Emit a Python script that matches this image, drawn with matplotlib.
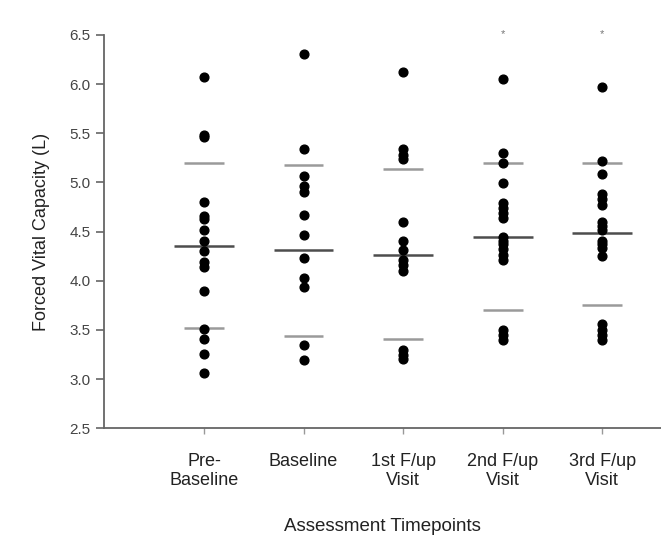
import matplotlib
matplotlib.use("Agg")
import matplotlib.pyplot as plt

plt.rcParams['font.family'] = ['Liberation Sans', 'DejaVu Sans']

categories = ["Pre-\nBaseline", "Baseline", "1st F/up\nVisit", "2nd F/up\nVisit", "3rd F/up\nVisit"]

pre_baseline = [6.07, 5.48, 5.46, 4.80, 4.66, 4.63, 4.52, 4.40, 4.30, 4.19, 4.14, 3.90, 3.51, 3.41, 3.26, 3.06]
baseline = [6.31, 5.34, 5.07, 4.96, 4.90, 4.67, 4.47, 4.23, 4.03, 3.94, 3.35, 3.19]
fup1 = [6.12, 5.34, 5.28, 5.24, 4.60, 4.40, 4.31, 4.21, 4.16, 4.10, 3.30, 3.25, 3.21]
fup2 = [6.05, 5.30, 5.20, 4.99, 4.79, 4.74, 4.69, 4.64, 4.45, 4.41, 4.37, 4.32, 4.26, 4.21, 3.50, 3.45, 3.40]
fup3 = [5.97, 5.22, 5.09, 4.88, 4.83, 4.77, 4.60, 4.56, 4.52, 4.41, 4.37, 4.33, 4.25, 3.56, 3.50, 3.45, 3.40]
series = [pre_baseline, baseline, fup1, fup2, fup3]

means = [4.35, 4.31, 4.26, 4.45, 4.49]
upper_sd = [5.20, 5.18, 5.14, 5.20, 5.20]
lower_sd = [3.52, 3.44, 3.41, 3.70, 3.75]
significant = [False, False, False, True, True]

fig = plt.figure(figsize=(6.61, 5.35), dpi=100)
ax = fig.add_axes([0.158, 0.1994, 0.842, 0.7352])

for i, vals in enumerate(series):
    x = i + 1
    ax.plot([x] * len(vals), vals, 'o', color='black', markersize=6.3, zorder=3)
    ax.hlines(means[i], x - 0.3, x + 0.3, color='#4d4d4d', linewidth=1.8, zorder=2)
    ax.hlines([upper_sd[i], lower_sd[i]], x - 0.2, x + 0.2, color='#9a9a9a', linewidth=1.8, zorder=2)
    if significant[i]:
        ax.text(x, 6.51, '*', ha='center', va='center', fontsize=8, color='#777777')

ax.set_xlim(0, 5.59)
ax.set_ylim(2.5, 6.5)
ax.set_yticks([2.5, 3.0, 3.5, 4.0, 4.5, 5.0, 5.5, 6.0, 6.5])
ax.set_yticklabels(["2.5", "3.0", "3.5", "4.0", "4.5", "5.0", "5.5", "6.0", "6.5"])
ax.set_xticks(range(1, 6))
ax.set_xticklabels(categories, fontsize=13, color='#222222', linespacing=1.15)

for s in ['top', 'right']:
    ax.spines[s].set_visible(False)
for s in ['left', 'bottom']:
    ax.spines[s].set_color('#666666')
    ax.spines[s].set_linewidth(1.3)

ax.tick_params(axis='y', direction='out', length=6, width=1.2, color='#666666', labelsize=11, labelcolor='#444444', pad=4)
ax.tick_params(axis='x', direction='out', length=4, width=1.0, color='#999999', pad=14)

ax.set_ylabel("Forced Vital Capacity (L)", fontsize=13, color='#222222', labelpad=14)
ax.set_xlabel("Assessment Timepoints", fontsize=13.5, color='#222222', labelpad=21)

fig.savefig("out.png", dpi=100)
